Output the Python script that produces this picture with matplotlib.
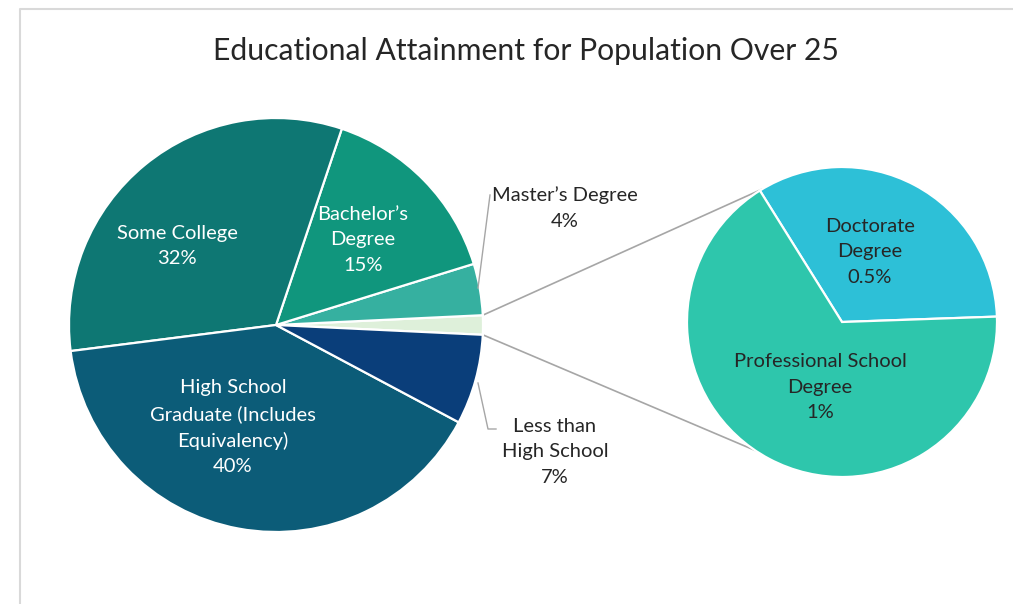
import numpy as np
import matplotlib
matplotlib.use('Agg')
import matplotlib.pyplot as plt

plt.rcParams['font.family'] = ['Lato', 'DejaVu Sans']

# main pie, counter-clockwise from the "other" slice
main_labels = ['Other', "Master\u2019s Degree", "Bachelor\u2019s\nDegree", 'Some College',
               'High School\nGraduate (Includes\nEquivalency)', 'Less than\nHigh School']
main_values = [None, 4, 15, 32, 40, 7]
main_pct = ['', '4%', '15%', '32%', '40%', '7%']
main_colors = ['#def0da', '#36b0a0', '#10967d', '#0e7773', '#0c5c78', '#0a3e7a']

# secondary pie (breakdown of "other")
sub_labels = ['Doctorate\nDegree', 'Professional School\nDegree']
sub_values = [0.5, 1.0]
sub_pct = ['0.5%', '1%']
sub_colors = ['#2dc0d7', '#2ec6ac']

main_values[0] = sum(sub_values)

W, H = 1013, 604
fig = plt.figure(figsize=(W / 100, H / 100), dpi=100)
ax = fig.add_axes([0, 0, 1, 1])


def py(y):
    # pixel row -> data y
    return H - y


c1, r1 = (276, py(325)), 207
c2, r2 = (842, py(322)), 155

total = sum(main_values)
start = -main_values[0] / total * 360 / 2
wedges, _ = ax.pie(main_values, colors=main_colors, startangle=start,
                   center=c1, radius=r1, counterclock=True, frame=True,
                   wedgeprops=dict(edgecolor='white', linewidth=1.6))

wedges2, _ = ax.pie(sub_values, colors=sub_colors, startangle=2,
                    center=c2, radius=r2, counterclock=True, frame=True,
                    wedgeprops=dict(edgecolor='white', linewidth=1.6))
ax.set_xlim(0, W)
ax.set_ylim(0, H)
ax.set_aspect('equal')
ax.axis('off')

# frame
ax.plot([20, 20, W], [0, py(9), py(9)], color='#d9d9d9', lw=1.5, zorder=0)

# connector lines between the "other" slice and the secondary pie
other = wedges[0]
for a1, a2 in [(other.theta2, 121), (other.theta1, 236)]:
    p1 = (c1[0] + r1 * np.cos(np.radians(a1)), c1[1] + r1 * np.sin(np.radians(a1)))
    p2 = (c2[0] + r2 * np.cos(np.radians(a2)), c2[1] + r2 * np.sin(np.radians(a2)))
    ax.plot([p1[0], p2[0]], [p1[1], p2[1]], color='#a6a6a6', lw=1.2, zorder=0)

fs = 14.5
white = dict(ha='center', va='center', color='white', fontsize=fs, linespacing=1.6)
dark = dict(ha='center', va='center', color='#262626', fontsize=fs, linespacing=1.6)

inside_pos = {2: (363, 240), 3: (177, 246), 4: (233, 427)}
for i, (x, y) in inside_pos.items():
    ax.text(x, py(y), main_labels[i] + '\n' + main_pct[i], **white)

ax.text(565, py(208), main_labels[1] + '\n' + main_pct[1], **dark)
ax.text(555, py(452), main_labels[5] + '\n' + main_pct[5], **dark)

# leader lines for the outside labels
ax.plot([478, 490], [py(288), py(195)], color='#a6a6a6', lw=1.0)
ax.plot([478, 488, 496], [py(383), py(429), py(429)], color='#a6a6a6', lw=1.0)

ax.text(870, py(252), sub_labels[0] + '\n' + sub_pct[0], **dark)
ax.text(820, py(387), sub_labels[1] + '\n' + sub_pct[1], **dark)

ax.text(526, py(51), 'Educational Attainment for Population Over 25',
        ha='center', va='center', fontsize=21.7, color='#262626')

fig.savefig('out.png', dpi=100)
